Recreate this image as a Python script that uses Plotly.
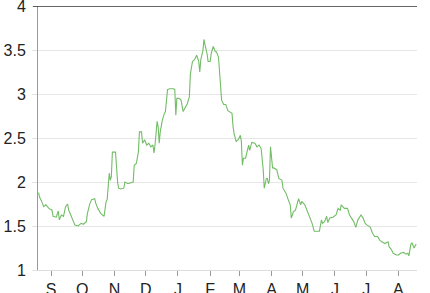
import plotly.graph_objects as go

dates = [
    "2013-08-20", "2013-08-21", "2013-08-23", "2013-08-25", "2013-08-27", "2013-08-30",
    "2013-09-02", "2013-09-03", "2013-09-06", "2013-09-08", "2013-09-09", "2013-09-11",
    "2013-09-13", "2013-09-15", "2013-09-17", "2013-09-18", "2013-09-20", "2013-09-22",
    "2013-09-24", "2013-09-27", "2013-09-30", "2013-10-02", "2013-10-05", "2013-10-06",
    "2013-10-08", "2013-10-10", "2013-10-13", "2013-10-14", "2013-10-16", "2013-10-19",
    "2013-10-22", "2013-10-24", "2013-10-25", "2013-10-27", "2013-10-28", "2013-10-29",
    "2013-10-30", "2013-11-02", "2013-11-03", "2013-11-04", "2013-11-05", "2013-11-07",
    "2013-11-10", "2013-11-11", "2013-11-14", "2013-11-17", "2013-11-19", "2013-11-20",
    "2013-11-22", "2013-11-24", "2013-11-25", "2013-11-27", "2013-11-28", "2013-11-30",
    "2013-12-02", "2013-12-04", "2013-12-06", "2013-12-08", "2013-12-09", "2013-12-10",
    "2013-12-12", "2013-12-13", "2013-12-14", "2013-12-15", "2013-12-17", "2013-12-19",
    "2013-12-20", "2013-12-22", "2013-12-24", "2013-12-28", "2013-12-29", "2013-12-30",
    "2013-12-31", "2014-01-02", "2014-01-04", "2014-01-06", "2014-01-08", "2014-01-10",
    "2014-01-12", "2014-01-13", "2014-01-15", "2014-01-17", "2014-01-19", "2014-01-21",
    "2014-01-22", "2014-01-23", "2014-01-25", "2014-01-26", "2014-01-27", "2014-01-29",
    "2014-01-30", "2014-02-01", "2014-02-02", "2014-02-04", "2014-02-06", "2014-02-07",
    "2014-02-09", "2014-02-10", "2014-02-12", "2014-02-14", "2014-02-16", "2014-02-18",
    "2014-02-22", "2014-02-23", "2014-02-24", "2014-02-26", "2014-02-28", "2014-03-02",
    "2014-03-03", "2014-03-04", "2014-03-05", "2014-03-07", "2014-03-09", "2014-03-10",
    "2014-03-11", "2014-03-13", "2014-03-16", "2014-03-18", "2014-03-20", "2014-03-22",
    "2014-03-24", "2014-03-25", "2014-03-27", "2014-03-28", "2014-03-29", "2014-03-30",
    "2014-03-31", "2014-04-02", "2014-04-03", "2014-04-06", "2014-04-08", "2014-04-11",
    "2014-04-12", "2014-04-15", "2014-04-17", "2014-04-19", "2014-04-20", "2014-04-22",
    "2014-04-24", "2014-04-26", "2014-04-27", "2014-04-29", "2014-04-30", "2014-05-03",
    "2014-05-05", "2014-05-08", "2014-05-10", "2014-05-12", "2014-05-15", "2014-05-17",
    "2014-05-19", "2014-05-20", "2014-05-22", "2014-05-24", "2014-05-25", "2014-05-27",
    "2014-05-30", "2014-06-02", "2014-06-04", "2014-06-06", "2014-06-07", "2014-06-10",
    "2014-06-13", "2014-06-15", "2014-06-19", "2014-06-21", "2014-06-23", "2014-06-26",
    "2014-06-28", "2014-06-30", "2014-07-02", "2014-07-05", "2014-07-07", "2014-07-09",
    "2014-07-12", "2014-07-14", "2014-07-16", "2014-07-19", "2014-07-22", "2014-07-23",
    "2014-07-25", "2014-07-27", "2014-07-30", "2014-08-01", "2014-08-03", "2014-08-06",
    "2014-08-08", "2014-08-10", "2014-08-11", "2014-08-13", "2014-08-14", "2014-08-16",
    "2014-08-18",
]

values = [
    1.88, 1.83, 1.78, 1.72, 1.74, 1.70,
    1.68, 1.61, 1.60, 1.67, 1.57, 1.625,
    1.61, 1.72, 1.75, 1.68, 1.625, 1.57,
    1.51, 1.50, 1.53, 1.52, 1.55, 1.64,
    1.74, 1.80, 1.81, 1.76, 1.70, 1.64,
    1.61, 1.78, 1.80, 2.10, 2.02, 2.06,
    2.34, 2.34, 2.10, 2.00, 1.93, 1.92,
    1.93, 2.00, 1.98, 1.99, 2.00, 2.19,
    2.21, 2.34, 2.57, 2.57, 2.44, 2.48,
    2.42, 2.44, 2.40, 2.42, 2.33, 2.42,
    2.69, 2.63, 2.44, 2.57, 2.70, 2.78,
    2.80, 3.05, 3.06, 3.06, 3.05, 2.76,
    2.95, 2.95, 2.93, 2.80, 2.84, 2.89,
    2.97, 3.23, 3.37, 3.39, 3.44, 3.37,
    3.25, 3.39, 3.49, 3.62, 3.56, 3.46,
    3.37, 3.37, 3.46, 3.54, 3.48, 3.48,
    3.42, 3.23, 2.93, 2.88, 2.88, 2.81,
    2.78, 2.63, 2.55, 2.46, 2.48, 2.53,
    2.46, 2.19, 2.27, 2.27, 2.38, 2.42,
    2.36, 2.45, 2.44, 2.40, 2.42, 2.38,
    2.14, 1.93, 2.04, 2.04, 1.98, 2.02,
    2.40, 2.16, 2.16, 2.14, 2.04, 2.02,
    1.93, 1.87, 1.80, 1.74, 1.59, 1.66,
    1.68, 1.78, 1.81, 1.74, 1.78, 1.74,
    1.68, 1.61, 1.53, 1.44, 1.44, 1.44,
    1.57, 1.53, 1.55, 1.61, 1.54, 1.59,
    1.60, 1.625, 1.70, 1.68, 1.74, 1.70,
    1.70, 1.625, 1.55, 1.485, 1.57, 1.625,
    1.59, 1.53, 1.51, 1.485, 1.42, 1.38,
    1.38, 1.34, 1.32, 1.30, 1.32, 1.265,
    1.235, 1.19, 1.17, 1.17, 1.19, 1.20,
    1.18, 1.19, 1.16, 1.295, 1.31, 1.25,
    1.295,
]

month_ticks = [
    "2013-09-01", "2013-10-01", "2013-11-01", "2013-12-01", "2014-01-01", "2014-02-01",
    "2014-03-01", "2014-04-01", "2014-05-01", "2014-06-01", "2014-07-01", "2014-08-01",
]
month_labels = ["S", "O", "N", "D", "J", "F", "M", "A", "M", "J", "J", "A"]

y_ticks = [1, 1.5, 2, 2.5, 3, 3.5, 4]
y_labels = ["1", "1.5", "2", "2.5", "3", "3.5", "4"]

FONT = "Liberation Sans, Arial, Helvetica, sans-serif"

fig = go.Figure()
fig.add_trace(go.Scatter(
    x=dates, y=values, mode="lines",
    line=dict(color="#72bd66", width=1.1),
    hoverinfo="skip", showlegend=False,
))

fig.update_layout(
    width=430, height=293,
    margin=dict(l=38, r=13, t=6, b=23, autoexpand=False),
    paper_bgcolor="white", plot_bgcolor="white",
    font=dict(family=FONT, size=16, color="#222222"),
    showlegend=False,
)

fig.update_xaxes(
    type="date", automargin=False,
    range=["2013-08-19 12:00", "2014-08-18 20:00"],
    tickmode="array", tickvals=month_ticks, ticktext=month_labels,
    ticks="outside", ticklen=5, tickcolor="#999999", tickwidth=1,
    showgrid=False, zeroline=False,
    showline=True, linecolor="#dddddd", linewidth=1,
    tickfont=dict(family=FONT, size=16, color="#222222"),
    ticklabeloverflow="allow",
)

fig.update_yaxes(
    range=[1, 4], automargin=False,
    tickmode="array", tickvals=y_ticks, ticktext=y_labels,
    ticks="outside", ticklen=5, tickcolor="#e2e2e2", tickwidth=1,
    showgrid=True, gridcolor="#e6e6e6", gridwidth=1,
    zeroline=False,
    showline=True, linecolor="#999999", linewidth=1,
    tickfont=dict(family=FONT, size=16, color="#222222"),
    ticklabeloverflow="allow",
    ticklabelstandoff=3,
)

fig.add_shape(
    type="line", xref="paper", yref="y",
    x0=-5 / 379, x1=1, y0=4, y1=4,
    line=dict(color="#333333", width=1.5),
)

fig.write_html("out.html")
